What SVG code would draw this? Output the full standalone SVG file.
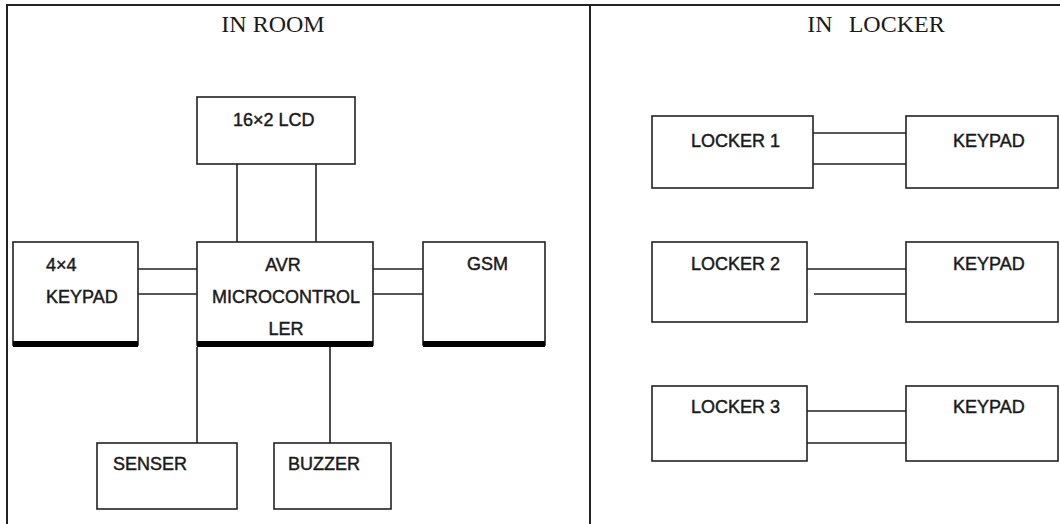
<svg xmlns="http://www.w3.org/2000/svg" width="1060" height="524" viewBox="0 0 1060 524">
<style>
.box{fill:#fff;stroke:#222;stroke-width:1.6}
.bar{fill:#000}
.lbl{font-family:"Liberation Sans",Arial,sans-serif;font-size:18px;fill:#1a1a1a;stroke:#1a1a1a;stroke-width:0.45}
.ttl{font-family:"Liberation Serif","Times New Roman",serif;font-size:24px;fill:#1a1a1a}
.ln{stroke:#222;stroke-width:1.6;fill:none}
.frame{stroke:#222;stroke-width:2;fill:none}
</style>
<rect width="1060" height="524" fill="#fff"/>
<g id="frame">
<path class="frame" d="M7,524 V5 H1060 M590,5 V524"/>
<text class="ttl" x="273" y="32" text-anchor="middle">IN ROOM</text>
<text class="ttl" x="876" y="32" text-anchor="middle" word-spacing="10">IN LOCKER</text>
</g>
<g id="connectors">
<path class="ln" d="M237,164 V242 M316,164 V242"/>
<path class="ln" d="M138,269 H197 M138,294 H197"/>
<path class="ln" d="M373,269 H423 M373,294 H423"/>
<path class="ln" d="M197,347 V443 M330,347 V443"/>
<path class="ln" d="M813,133 H906 M813,164 H906"/>
<path class="ln" d="M807,269 H906 M814,294 H906"/>
<path class="ln" d="M807,411 H906 M807,443 H906"/>
</g>
<g id="lcd">
<rect class="box" x="197" y="97" width="158" height="67"/>
<text class="lbl" x="233" y="126">16×2 LCD</text>
</g>
<g id="keypad4x4">
<rect class="box" x="13" y="242" width="125" height="103"/>
<rect class="bar" x="13" y="341" width="125" height="6"/>
<text class="lbl" x="46" y="271">4×4</text>
<text class="lbl" x="46" y="303">KEYPAD</text>
</g>
<g id="avr">
<rect class="box" x="197" y="242" width="176" height="103"/>
<rect class="bar" x="197" y="341" width="176" height="6"/>
<text class="lbl" x="283" y="271" text-anchor="middle">AVR</text>
<text class="lbl" x="286" y="303" text-anchor="middle">MICROCONTROL</text>
<text class="lbl" x="286" y="335" text-anchor="middle">LER</text>
</g>
<g id="gsm">
<rect class="box" x="423" y="242" width="122" height="103"/>
<rect class="bar" x="423" y="341" width="122" height="6"/>
<text class="lbl" x="467" y="270">GSM</text>
</g>
<g id="senser">
<rect class="box" x="97" y="443" width="140" height="66"/>
<text class="lbl" x="113" y="470">SENSER</text>
</g>
<g id="buzzer">
<rect class="box" x="274" y="443" width="117" height="66"/>
<text class="lbl" x="288" y="470">BUZZER</text>
</g>
<g id="locker1">
<rect class="box" x="652" y="116" width="161" height="72"/>
<text class="lbl" x="691" y="147">LOCKER 1</text>
</g>
<g id="keypad1">
<rect class="box" x="906" y="116" width="152" height="72"/>
<text class="lbl" x="953" y="147">KEYPAD</text>
</g>
<g id="locker2">
<rect class="box" x="652" y="242" width="155" height="80"/>
<text class="lbl" x="691" y="270">LOCKER 2</text>
</g>
<g id="keypad2">
<rect class="box" x="906" y="242" width="152" height="80"/>
<text class="lbl" x="953" y="270">KEYPAD</text>
</g>
<g id="locker3">
<rect class="box" x="652" y="386" width="155" height="75"/>
<text class="lbl" x="691" y="413">LOCKER 3</text>
</g>
<g id="keypad3">
<rect class="box" x="906" y="386" width="152" height="75"/>
<text class="lbl" x="953" y="413">KEYPAD</text>
</g>
</svg>
